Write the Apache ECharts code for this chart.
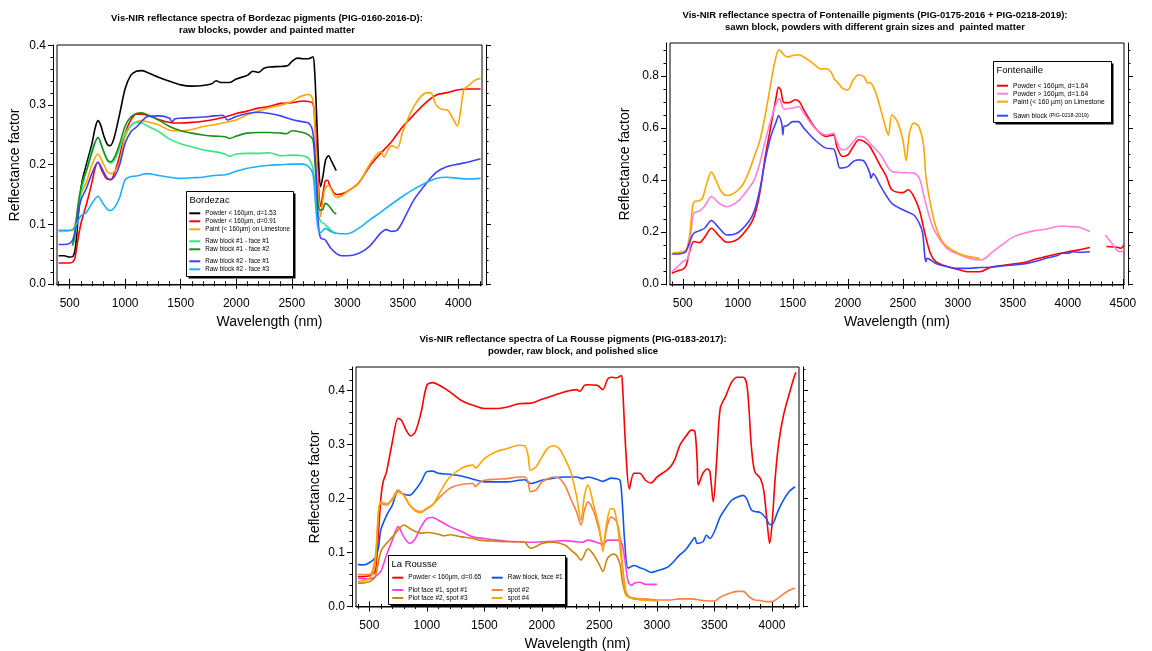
<!DOCTYPE html>
<html>
<head>
<meta charset="utf-8">
<title>Vis-NIR reflectance spectra</title>
<script src="https://cdn.jsdelivr.net/npm/echarts@6.0.0/dist/echarts.min.js"></script>
<style>
html, body { margin: 0; padding: 0; background: #fff; }
#main { width: 1152px; height: 651px; }
</style>
</head>
<body>
<div id="main"></div>
<script>
// data points are [wavelength (nm), reflectance factor]

// --- Bordezac (PIG-0160-2016-D)
const bzPowder153 = [[400,0.047],[450,0.047],[500,0.045],[530,0.046],[555,0.065],[580,0.12],[610,0.17],[650,0.2],[700,0.235],[730,0.262],[755,0.274],[780,0.266],[810,0.247],[840,0.234],[865,0.232],[900,0.245],[950,0.285],[1000,0.328],[1050,0.35],[1100,0.357],[1150,0.358],[1200,0.355],[1300,0.347],[1400,0.34],[1500,0.334],[1600,0.332],[1700,0.333],[1780,0.336],[1820,0.341],[1860,0.338],[1940,0.338],[2000,0.344],[2100,0.35],[2150,0.357],[2200,0.355],[2250,0.362],[2300,0.364],[2400,0.365],[2460,0.366],[2500,0.373],[2550,0.379],[2600,0.378],[2650,0.378],[2690,0.381],[2705,0.36],[2720,0.3],[2740,0.21],[2760,0.163],[2780,0.18],[2805,0.208],[2830,0.215],[2860,0.205],[2900,0.19]];
const bzPowder091 = [[400,0.035],[450,0.035],[500,0.035],[530,0.037],[550,0.045],[575,0.075],[600,0.1],[630,0.12],[660,0.14],[700,0.17],[730,0.195],[755,0.204],[790,0.19],[830,0.177],[870,0.175],[910,0.19],[950,0.215],[1000,0.253],[1050,0.275],[1100,0.285],[1150,0.285],[1200,0.283],[1300,0.276],[1400,0.271],[1500,0.27],[1600,0.271],[1700,0.273],[1800,0.276],[1900,0.28],[2000,0.286],[2100,0.29],[2200,0.295],[2300,0.298],[2400,0.303],[2500,0.304],[2600,0.307],[2650,0.306],[2690,0.303],[2710,0.27],[2730,0.2],[2760,0.13],[2780,0.15],[2800,0.172],[2820,0.174],[2850,0.162],[2900,0.15],[2950,0.151],[3000,0.155],[3100,0.169],[3200,0.197],[3300,0.219],[3400,0.239],[3500,0.264],[3600,0.284],[3700,0.303],[3800,0.317],[3900,0.321],[4000,0.326],[4100,0.327],[4200,0.327]];
const bzPaint = [[400,0.088],[450,0.088],[500,0.089],[530,0.09],[560,0.11],[600,0.15],[650,0.17],[700,0.2],[755,0.218],[800,0.203],[840,0.188],[870,0.185],[910,0.19],[950,0.205],[1000,0.247],[1050,0.265],[1100,0.272],[1150,0.274],[1200,0.272],[1300,0.267],[1400,0.258],[1500,0.257],[1600,0.259],[1700,0.264],[1800,0.267],[1900,0.271],[2000,0.275],[2100,0.284],[2200,0.29],[2300,0.296],[2400,0.3],[2500,0.306],[2550,0.312],[2600,0.316],[2650,0.318],[2685,0.312],[2700,0.29],[2720,0.22],[2740,0.15],[2760,0.113],[2780,0.14],[2800,0.16],[2830,0.165],[2870,0.153],[2900,0.145],[2950,0.148],[3000,0.155],[3100,0.168],[3200,0.2],[3300,0.222],[3330,0.213],[3370,0.226],[3400,0.232],[3450,0.228],[3500,0.256],[3600,0.298],[3700,0.32],[3750,0.321],[3800,0.3],[3850,0.293],[3900,0.292],[3950,0.278],[3990,0.265],[4020,0.29],[4050,0.326],[4100,0.334],[4150,0.342],[4200,0.345]];
const bzBlock1Face1 = [[525,0.063],[545,0.075],[570,0.11],[600,0.15],[650,0.19],[700,0.225],[755,0.245],[800,0.225],[840,0.207],[870,0.203],[910,0.21],[950,0.228],[1000,0.253],[1050,0.265],[1100,0.271],[1150,0.27],[1200,0.265],[1300,0.256],[1400,0.243],[1500,0.235],[1600,0.23],[1700,0.225],[1800,0.222],[1900,0.218],[1940,0.214],[2000,0.218],[2100,0.219],[2200,0.219],[2300,0.22],[2400,0.215],[2500,0.216],[2600,0.215],[2650,0.211],[2690,0.195],[2710,0.16],[2730,0.125],[2760,0.105],[2800,0.1],[2850,0.09],[2900,0.084]];
const bzBlock1Face2 = [[525,0.065],[545,0.08],[570,0.125],[600,0.16],[630,0.18],[660,0.195],[700,0.22],[755,0.246],[800,0.225],[840,0.208],[870,0.205],[910,0.215],[950,0.235],[1000,0.265],[1050,0.28],[1100,0.286],[1150,0.287],[1200,0.284],[1300,0.275],[1400,0.264],[1500,0.257],[1600,0.253],[1700,0.25],[1800,0.248],[1900,0.247],[1940,0.244],[2000,0.248],[2100,0.253],[2200,0.254],[2300,0.254],[2400,0.253],[2450,0.252],[2500,0.257],[2600,0.254],[2650,0.25],[2690,0.242],[2710,0.2],[2730,0.15],[2750,0.124],[2780,0.125],[2800,0.135],[2830,0.132],[2870,0.122],[2900,0.117]];
const bzBlock2Face1 = [[400,0.066],[450,0.066],[500,0.068],[530,0.075],[560,0.1],[600,0.14],[650,0.16],[700,0.185],[755,0.204],[800,0.19],[840,0.177],[870,0.175],[910,0.182],[950,0.2],[1000,0.236],[1050,0.255],[1100,0.263],[1150,0.273],[1200,0.281],[1300,0.282],[1400,0.278],[1420,0.272],[1450,0.277],[1500,0.278],[1600,0.279],[1700,0.28],[1800,0.282],[1880,0.283],[1920,0.275],[2000,0.281],[2100,0.286],[2200,0.288],[2300,0.286],[2400,0.282],[2500,0.276],[2600,0.272],[2650,0.27],[2680,0.262],[2700,0.24],[2720,0.18],[2740,0.1],[2760,0.077],[2800,0.074],[2850,0.06],[2900,0.051],[2950,0.047],[3000,0.047],[3100,0.051],[3200,0.063],[3300,0.085],[3350,0.091],[3400,0.088],[3450,0.09],[3500,0.105],[3600,0.141],[3700,0.166],[3800,0.187],[3900,0.197],[4000,0.201],[4100,0.205],[4200,0.21]];
const bzBlock2Face3 = [[400,0.09],[450,0.09],[500,0.09],[530,0.092],[560,0.1],[600,0.114],[650,0.12],[700,0.135],[755,0.147],[800,0.135],[840,0.125],[870,0.123],[910,0.13],[950,0.145],[1000,0.175],[1050,0.18],[1100,0.181],[1200,0.185],[1300,0.182],[1400,0.179],[1500,0.177],[1600,0.178],[1700,0.179],[1800,0.182],[1900,0.183],[2000,0.189],[2100,0.194],[2200,0.197],[2300,0.199],[2400,0.2],[2500,0.201],[2600,0.201],[2650,0.197],[2690,0.185],[2720,0.12],[2740,0.09],[2760,0.086],[2800,0.093],[2850,0.088],[2900,0.085],[3000,0.084],[3100,0.093],[3200,0.107],[3300,0.12],[3400,0.134],[3500,0.147],[3600,0.159],[3700,0.169],[3800,0.177],[3900,0.179],[4000,0.177],[4100,0.176],[4200,0.177]];

// --- Fontenaille (PIG-0175-2016 + PIG-0218-2019), null = gap in the record
const fnPowderFine = [[400,0.041],[450,0.05],[500,0.056],[530,0.07],[560,0.12],[600,0.163],[650,0.159],[700,0.18],[760,0.214],[830,0.185],[900,0.16],[1000,0.172],[1100,0.22],[1150,0.26],[1200,0.349],[1250,0.49],[1300,0.605],[1350,0.72],[1370,0.756],[1390,0.746],[1420,0.697],[1470,0.697],[1520,0.708],[1560,0.7],[1600,0.669],[1700,0.601],[1800,0.567],[1870,0.573],[1900,0.528],[1950,0.49],[2000,0.496],[2050,0.528],[2100,0.554],[2150,0.547],[2200,0.528],[2300,0.451],[2350,0.413],[2400,0.362],[2500,0.351],[2550,0.362],[2600,0.336],[2650,0.285],[2700,0.195],[2750,0.118],[2800,0.086],[2900,0.067],[3000,0.056],[3100,0.047],[3200,0.047],[3300,0.064],[3400,0.071],[3500,0.077],[3600,0.082],[3700,0.095],[3800,0.105],[3900,0.115],[4000,0.124],[4100,0.131],[4200,0.14],[4270,null],[4350,0.144],[4450,0.141],[4480,0.137],[4510,0.15]];
const fnPowderCoarse = [[400,0.047],[450,0.065],[500,0.086],[550,0.1],[575,0.2],[600,0.272],[650,0.28],[700,0.3],[760,0.336],[830,0.31],[900,0.297],[1000,0.317],[1100,0.368],[1150,0.4],[1200,0.464],[1250,0.55],[1300,0.63],[1350,0.695],[1380,0.712],[1420,0.672],[1500,0.676],[1550,0.682],[1600,0.656],[1700,0.599],[1800,0.573],[1870,0.579],[1900,0.547],[1950,0.515],[2000,0.522],[2050,0.547],[2100,0.567],[2150,0.564],[2200,0.541],[2300,0.496],[2400,0.432],[2500,0.428],[2600,0.426],[2650,0.406],[2700,0.323],[2750,0.246],[2800,0.195],[2900,0.137],[3000,0.115],[3100,0.099],[3200,0.092],[3250,0.099],[3300,0.118],[3400,0.15],[3500,0.18],[3600,0.195],[3700,0.205],[3800,0.21],[3900,0.221],[3950,0.223],[4000,0.221],[4100,0.218],[4200,0.201],[4270,null],[4340,0.188],[4400,0.156],[4450,0.128],[4480,0.124],[4510,0.133]];
const fnPaint = [[410,0.12],[500,0.124],[530,0.13],[560,0.18],[590,0.3],[610,0.317],[650,0.32],[680,0.33],[720,0.39],[760,0.43],[800,0.4],[850,0.355],[900,0.34],[950,0.345],[1000,0.36],[1050,0.385],[1100,0.43],[1150,0.49],[1200,0.55],[1250,0.65],[1300,0.77],[1340,0.86],[1375,0.9],[1410,0.885],[1450,0.872],[1500,0.878],[1550,0.881],[1600,0.872],[1700,0.842],[1750,0.826],[1800,0.827],[1850,0.813],[1880,0.785],[1900,0.778],[1950,0.753],[2000,0.746],[2050,0.785],[2100,0.804],[2150,0.795],[2180,0.772],[2200,0.774],[2250,0.74],[2300,0.669],[2350,0.592],[2370,0.573],[2400,0.65],[2450,0.624],[2500,0.554],[2530,0.474],[2560,0.58],[2600,0.618],[2640,0.608],[2670,0.573],[2690,0.528],[2710,0.413],[2750,0.31],[2800,0.22],[2850,0.169],[2900,0.144],[3000,0.118],[3100,0.105],[3200,0.099]];
const fnSawnBlock = [[400,0.115],[450,0.115],[500,0.118],[530,0.125],[570,0.17],[600,0.195],[650,0.204],[700,0.215],[760,0.244],[830,0.215],[900,0.188],[1000,0.197],[1100,0.24],[1150,0.28],[1200,0.362],[1250,0.477],[1300,0.567],[1350,0.624],[1370,0.646],[1400,0.615],[1410,0.573],[1420,0.605],[1450,0.609],[1500,0.624],[1550,0.624],[1600,0.599],[1700,0.554],[1800,0.522],[1870,0.519],[1900,0.483],[1930,0.445],[2000,0.451],[2050,0.471],[2100,0.477],[2150,0.471],[2200,0.426],[2210,0.406],[2230,0.423],[2300,0.374],[2400,0.31],[2500,0.285],[2600,0.265],[2650,0.233],[2680,0.195],[2700,0.105],[2710,0.086],[2720,0.099],[2800,0.079],[2900,0.067],[3000,0.06],[3100,0.06],[3200,0.063],[3300,0.064],[3400,0.069],[3500,0.073],[3600,0.077],[3700,0.086],[3800,0.099],[3900,0.108],[3950,0.118],[4000,0.118],[4050,0.124],[4100,0.122],[4200,0.124]];

// --- La Rousse (PIG-0183-2017)
const lrPowder = [[400,0.055],[500,0.057],[550,0.065],[580,0.139],[600,0.2],[620,0.231],[650,0.25],[700,0.305],[750,0.349],[780,0.345],[820,0.327],[860,0.316],[900,0.324],[950,0.36],[1000,0.41],[1050,0.415],[1100,0.411],[1200,0.398],[1300,0.382],[1400,0.373],[1500,0.367],[1600,0.367],[1700,0.37],[1800,0.376],[1900,0.377],[2000,0.384],[2100,0.391],[2200,0.398],[2300,0.402],[2330,0.399],[2370,0.41],[2400,0.411],[2480,0.41],[2530,0.402],[2570,0.421],[2600,0.425],[2650,0.424],[2690,0.428],[2700,0.413],[2730,0.287],[2760,0.218],[2800,0.247],[2850,0.247],[2900,0.234],[2950,0.229],[3000,0.24],[3100,0.255],[3150,0.27],[3200,0.299],[3250,0.315],[3300,0.327],[3330,0.324],[3350,0.268],[3360,0.225],[3400,0.247],[3440,0.255],[3460,0.25],[3490,0.194],[3520,0.274],[3550,0.367],[3600,0.391],[3650,0.416],[3700,0.425],[3750,0.425],[3780,0.413],[3800,0.367],[3820,0.299],[3850,0.25],[3900,0.237],[3930,0.213],[3960,0.151],[3980,0.117],[4000,0.151],[4030,0.243],[4060,0.305],[4100,0.354],[4150,0.394],[4200,0.43],[4210,0.434]];
const lrRawBlock = [[400,0.078],[450,0.077],[500,0.081],[550,0.09],[580,0.11],[600,0.142],[650,0.169],[700,0.188],[750,0.213],[800,0.208],[850,0.206],[900,0.216],[950,0.231],[1000,0.25],[1050,0.251],[1100,0.247],[1200,0.245],[1300,0.242],[1400,0.236],[1500,0.231],[1600,0.231],[1700,0.231],[1800,0.234],[1850,0.235],[1900,0.228],[2000,0.234],[2100,0.238],[2200,0.24],[2300,0.24],[2350,0.237],[2400,0.24],[2500,0.234],[2530,0.232],[2600,0.238],[2650,0.237],[2680,0.234],[2700,0.188],[2720,0.12],[2750,0.071],[2800,0.076],[2850,0.072],[2900,0.068],[2950,0.063],[3000,0.066],[3100,0.074],[3200,0.096],[3250,0.105],[3300,0.12],[3330,0.128],[3350,0.117],[3400,0.12],[3430,0.132],[3460,0.126],[3500,0.139],[3550,0.166],[3600,0.183],[3650,0.197],[3700,0.203],[3750,0.206],[3780,0.2],[3820,0.179],[3850,0.176],[3900,0.174],[3950,0.163],[3980,0.152],[4000,0.152],[4050,0.176],[4100,0.197],[4150,0.213],[4200,0.222]];
const lrPlot1Spot1 = [[400,0.052],[500,0.051],[550,0.055],[600,0.065],[650,0.096],[700,0.123],[750,0.148],[800,0.129],[850,0.117],[900,0.126],[950,0.148],[1000,0.163],[1050,0.165],[1100,0.16],[1200,0.148],[1300,0.139],[1400,0.129],[1500,0.126],[1600,0.123],[1700,0.121],[1800,0.12],[1900,0.119],[2000,0.12],[2100,0.121],[2200,0.122],[2300,0.12],[2350,0.119],[2400,0.123],[2500,0.117],[2530,0.114],[2570,0.123],[2650,0.123],[2690,0.12],[2720,0.089],[2750,0.046],[2780,0.039],[2800,0.043],[2850,0.045],[2900,0.041],[3000,0.041]];
const lrPlot2Spot3 = [[400,0.043],[500,0.046],[550,0.055],[600,0.102],[650,0.117],[700,0.129],[750,0.142],[800,0.151],[850,0.145],[900,0.139],[950,0.136],[1000,0.137],[1100,0.134],[1150,0.131],[1200,0.133],[1300,0.129],[1400,0.126],[1450,0.123],[1500,0.122],[1600,0.121],[1700,0.12],[1800,0.12],[1850,0.119],[1900,0.108],[1950,0.111],[2000,0.117],[2100,0.119],[2200,0.114],[2250,0.105],[2300,0.096],[2340,0.086],[2400,0.107],[2450,0.096],[2500,0.077],[2530,0.065],[2570,0.089],[2620,0.097],[2650,0.094],[2680,0.077],[2700,0.046],[2730,0.022],[2760,0.017],[2800,0.014],[2900,0.012],[3000,0.012]];
const lrSpot2 = [[400,0.059],[500,0.059],[550,0.089],[580,0.176],[600,0.191],[650,0.188],[700,0.2],[750,0.216],[800,0.206],[850,0.188],[900,0.179],[950,0.176],[1000,0.182],[1050,0.189],[1100,0.2],[1200,0.219],[1300,0.226],[1400,0.228],[1420,0.222],[1450,0.228],[1500,0.234],[1600,0.236],[1700,0.237],[1800,0.24],[1850,0.24],[1880,0.231],[1900,0.213],[1950,0.216],[2000,0.231],[2050,0.237],[2100,0.24],[2150,0.238],[2200,0.225],[2250,0.2],[2300,0.176],[2340,0.151],[2370,0.179],[2400,0.194],[2450,0.176],[2500,0.139],[2530,0.114],[2570,0.151],[2600,0.166],[2650,0.157],[2680,0.126],[2700,0.077],[2730,0.028],[2760,0.018],[2800,0.015],[2900,0.014],[3000,0.012],[3100,0.012],[3200,0.014],[3300,0.014],[3400,0.011],[3500,0.01],[3550,0.017],[3600,0.022],[3700,0.028],[3750,0.028],[3800,0.018],[3850,0.012],[3900,0.011],[3950,0.009],[4000,0.009],[4050,0.015],[4100,0.023],[4150,0.03],[4200,0.034]];
const lrSpot4 = [[400,0.046],[500,0.052],[550,0.077],[580,0.176],[600,0.194],[650,0.191],[700,0.197],[750,0.213],[800,0.206],[850,0.188],[900,0.177],[950,0.174],[1000,0.181],[1050,0.188],[1100,0.206],[1150,0.225],[1200,0.24],[1300,0.256],[1400,0.262],[1420,0.257],[1500,0.274],[1600,0.287],[1700,0.293],[1800,0.299],[1850,0.298],[1880,0.28],[1900,0.253],[1950,0.259],[2000,0.277],[2050,0.293],[2100,0.298],[2150,0.293],[2200,0.274],[2250,0.25],[2300,0.206],[2340,0.16],[2370,0.206],[2400,0.225],[2450,0.188],[2500,0.145],[2530,0.102],[2560,0.151],[2600,0.182],[2630,0.179],[2660,0.145],[2690,0.089],[2720,0.034],[2750,0.018],[2800,0.015],[2900,0.012],[3000,0.01]];

// tick labels
const wlTicks1 = [500, 1000, 1500, 2000, 2500, 3000, 3500, 4000];
const wlTicks2 = [500, 1000, 1500, 2000, 2500, 3000, 3500, 4000, 4500];
const reflTicks1 = [0, 0.1, 0.2, 0.3, 0.4];
const reflTicks2 = [0, 0.2, 0.4, 0.6, 0.8];

const FONT = 'Liberation Sans, Arial, Helvetica, sans-serif';

function steps(from, to, step) {
  const out = [];
  const n = Math.floor((to - from) / step + 1e-6);
  for (let i = 0; i <= n; i++) out.push(+(from + i * step).toFixed(4));
  return out;
}

// one entry per panel: grid box in px, axis ranges, ticks
const panels = [
  { grid: { left: 57, top: 45, width: 425, height: 240 }, x: [386, 4213], y: [-0.002, 0.401],
    xTicks: wlTicks1, yTicks: reflTicks1, yMinor: 0.02, yGap: 31 },
  { grid: { left: 670, top: 43, width: 454, height: 242 }, x: [384, 4510], y: [-0.004, 0.926],
    xTicks: wlTicks2, yTicks: reflTicks2, yMinor: 0.05, yGap: 34 },
  { grid: { left: 356, top: 367, width: 443, height: 240 }, x: [384, 4235], y: [-0.001, 0.444],
    xTicks: wlTicks1, yTicks: reflTicks1, yMinor: 0.02, yGap: 30 }
];

const black = { color: '#000', width: 1 };
const grids = [], xAxes = [], yAxes = [];

panels.forEach(function (p, i) {
  grids.push(Object.assign({ show: true, borderColor: '#000', borderWidth: 1, backgroundColor: 'transparent',
    containLabel: false, outerBoundsMode: 'none' }, p.grid));

  const xMinor = steps(Math.ceil(p.x[0] / 100) * 100, p.x[1], 100);
  const yMinor = steps(0, p.y[1], p.yMinor);
  const xBase = { gridIndex: i, type: 'value', min: p.x[0], max: p.x[1], offset: 4,
    splitLine: { show: false }, axisLine: { show: true, lineStyle: black } };
  const yBase = { gridIndex: i, type: 'value', min: p.y[0], max: p.y[1], offset: 4,
    splitLine: { show: false }, axisLine: { show: true, lineStyle: black } };
  const major = function (vals) { return { show: true, customValues: vals, length: 5, lineStyle: black }; };
  const minor = function (vals) { return { show: true, customValues: vals, length: 2.5, lineStyle: black }; };
  const noLabel = { show: false };

  xAxes.push(Object.assign({}, xBase, {
    position: 'bottom', axisTick: major(p.xTicks),
    axisLabel: { customValues: p.xTicks, color: '#000', fontSize: 12, fontFamily: FONT, margin: 9,
      formatter: function (v) { return String(v); } },
    name: 'Wavelength (nm)', nameLocation: 'middle', nameGap: 26,
    nameTextStyle: { color: '#000', fontSize: 14, fontFamily: FONT }
  }));
  xAxes.push(Object.assign({}, xBase, { position: 'bottom', axisLine: { show: false }, axisTick: minor(xMinor), axisLabel: noLabel }));
  xAxes.push(Object.assign({}, xBase, { position: 'top', axisTick: major(p.xTicks), axisLabel: noLabel }));
  xAxes.push(Object.assign({}, xBase, { position: 'top', axisLine: { show: false }, axisTick: minor(xMinor), axisLabel: noLabel }));

  yAxes.push(Object.assign({}, yBase, {
    position: 'left', axisTick: major(p.yTicks),
    axisLabel: { customValues: p.yTicks, color: '#000', fontSize: 12, fontFamily: FONT, margin: 7,
      formatter: function (v) { return v.toFixed(1); } },
    name: 'Reflectance factor', nameLocation: 'middle', nameGap: p.yGap,
    nameTextStyle: { color: '#000', fontSize: 14, fontFamily: FONT }
  }));
  yAxes.push(Object.assign({}, yBase, { position: 'left', axisLine: { show: false }, axisTick: minor(yMinor), axisLabel: noLabel }));
  yAxes.push(Object.assign({}, yBase, { position: 'right', axisTick: major(p.yTicks), axisLabel: noLabel }));
  yAxes.push(Object.assign({}, yBase, { position: 'right', axisLine: { show: false }, axisTick: minor(yMinor), axisLabel: noLabel }));
});

function line(name, data, color, panel) {
  return {
    name: name, type: 'line', data: data, xAxisIndex: panel * 4, yAxisIndex: panel * 4,
    color: color, showSymbol: false, symbol: 'none', smooth: 0.3,
    connectNulls: false, lineStyle: { color: color, width: 1.6 }, silent: true,
    emphasis: { disabled: true }, z: 2
  };
}

const series = [
  line('Powder < 160µm, d=1.53', bzPowder153, '#000000', 0),
  line('Powder < 160µm, d=0.91', bzPowder091, '#ff0000', 0),
  line('Paint (< 160µm) on Limestone', bzPaint, '#ffa600', 0),
  line('Raw block #1 - face #1', bzBlock1Face1, '#33e680', 0),
  line('Raw block #1 - face #2', bzBlock1Face2, '#1a8f1a', 0),
  line('Raw block #2 - face #1', bzBlock2Face1, '#4040ff', 0),
  line('Raw block #2 - face #3', bzBlock2Face3, '#1ab0ff', 0),

  line('Powder < 160µm, d=1.64', fnPowderFine, '#ff0000', 1),
  line('Powder > 160µm, d=1.64', fnPowderCoarse, '#ff80e0', 1),
  line('Paint (< 160 µm) on Limestone', fnPaint, '#ffa600', 1),
  line('Sawn block (PIG-0218-2019)', fnSawnBlock, '#4040ff', 1),

  line('Powder < 160µm, d=0.65', lrPowder, '#ff0000', 2),
  line('Raw block, face #1', lrRawBlock, '#0f55f0', 2),
  line('Plot face #1, spot #1', lrPlot1Spot1, '#ff40e0', 2),
  line('Plot face #2, spot #3', lrPlot2Spot3, '#c8860a', 2),
  line('spot #2', lrSpot2, '#ff8040', 2),
  line('spot #4', lrSpot4, '#ffa500', 2)
];

function legend(left, top, names, size, extra) {
  return Object.assign({
    orient: 'vertical', left: left, top: top, data: names, padding: 0, itemGap: 0,
    itemWidth: 11, itemHeight: 2, icon: 'rect', selectedMode: false, z: 30,
    textStyle: { fontSize: size, lineHeight: 8, color: '#000', fontFamily: FONT }
  }, extra || {});
}

const legends = [
  legend(189.3, 209.3, ['Powder < 160µm, d=1.53', 'Powder < 160µm, d=0.91', 'Paint (< 160µm) on Limestone'], 6.3),
  legend(189.3, 237.3, ['Raw block #1 - face #1', 'Raw block #1 - face #2'], 6.3),
  legend(189.3, 257.3, ['Raw block #2 - face #1', 'Raw block #2 - face #3'], 6.3),
  legend(997, 81.7, ['Powder < 160µm, d=1.64', 'Powder > 160µm, d=1.64', 'Paint (< 160 µm) on Limestone'], 6.7),
  legend(997, 111.7, ['Sawn block (PIG-0218-2019)'], 6.7, {
    formatter: function () { return '{a|Sawn block }{b|(PIG-0218-2019)}'; },
    textStyle: { fontSize: 6.7, lineHeight: 8, color: '#000', fontFamily: FONT,
      rich: { a: { fontSize: 6.7, fontFamily: FONT, color: '#000' }, b: { fontSize: 5.3, fontFamily: FONT, color: '#000' } } }
  }),
  legend(392.3, 573.7, ['Powder < 160µm, d=0.65'], 6.5),
  legend(392.3, 586, ['Plot face #1, spot #1', 'Plot face #2, spot #3'], 6.5),
  legend(491.7, 573.7, ['Raw block, face #1'], 6.5),
  legend(491.7, 586, ['spot #2', 'spot #4'], 6.5)
];

// legend frames with drop shadow and group title
function legendFrame(x, y, w, h, title) {
  return [
    { type: 'rect', silent: true, z: 20, shape: { x: x + 2, y: y + 2, width: w, height: h }, style: { fill: '#000' } },
    { type: 'rect', silent: true, z: 21, shape: { x: x, y: y, width: w, height: h }, style: { fill: '#fff', stroke: '#000', lineWidth: 1 } },
    { type: 'text', silent: true, z: 22, x: x + 3, y: y + 9,
      style: { text: title, fill: '#000', font: '9.5px ' + FONT, textVerticalAlign: 'middle', verticalAlign: 'middle' } }
  ];
}

const graphics = [].concat(
  legendFrame(186.5, 191.5, 107, 85, 'Bordezac'),
  legendFrame(993.5, 61.5, 118, 61, 'Fontenaille'),
  legendFrame(388.5, 555.5, 177, 49, 'La Rousse')
);

function panelTitle(text, cx, top) {
  return { text: text, left: cx, top: top, textAlign: 'center', padding: 0,
    textStyle: { fontSize: 9.5, fontWeight: 'bold', color: '#000', fontFamily: FONT, lineHeight: 12.5 } };
}

const chart = echarts.init(document.getElementById('main'), null, { renderer: 'canvas' });
chart.setOption({
  animation: false,
  backgroundColor: '#fff',
  textStyle: { fontFamily: FONT },
  title: [
    panelTitle('Vis-NIR reflectance spectra of Bordezac pigments (PIG-0160-2016-D):\nraw blocks, powder and painted matter', 267, 12),
    panelTitle('Vis-NIR reflectance spectra of Fontenaille pigments (PIG-0175-2016 + PIG-0218-2019):\nsawn block, powders with different grain sizes and  painted matter', 875, 8.8),
    panelTitle('Vis-NIR reflectance spectra of La Rousse pigments (PIG-0183-2017):\npowder, raw block, and polished slice', 573, 332.8)
  ],
  grid: grids,
  xAxis: xAxes,
  yAxis: yAxes,
  legend: legends,
  graphic: graphics,
  series: series
});
window.addEventListener('resize', function () { chart.resize(); });
</script>
</body>
</html>
